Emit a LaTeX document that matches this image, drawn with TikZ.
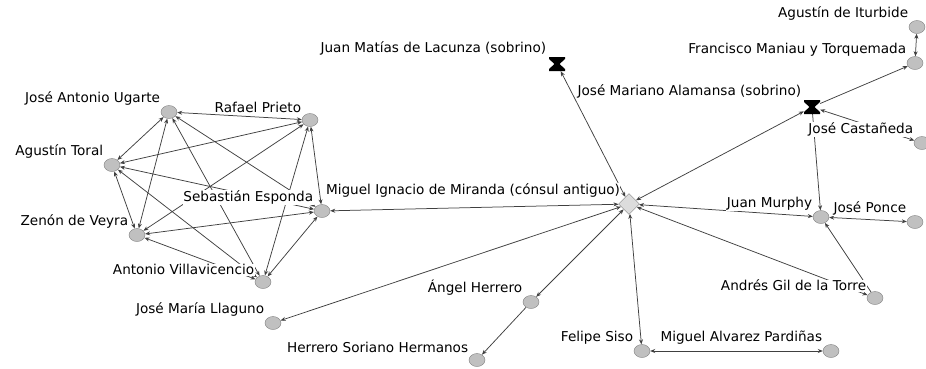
\documentclass[tikz,border=0pt]{standalone}
\usepackage{fontspec}
\setmainfont{DejaVu Sans}
\usetikzlibrary{shapes.geometric,arrows.meta,backgrounds}
\definecolor{tiegray}{HTML}{404040}
\definecolor{actorfill}{HTML}{C0C0C0}
\definecolor{actorline}{HTML}{808080}
\definecolor{brokerfill}{HTML}{DCDCDC}

\begin{document}
\begin{tikzpicture}[
		x=1pt, y=-1pt,
		every label/.style={fill=white, inner sep=0.5pt, xshift=-3pt, yshift=1pt, font=\fontsize{13.6}{16}\selectfont},
		actor/.style={draw=actorline, fill=actorfill, ellipse, minimum width=16pt, minimum height=13pt, inner sep=0pt},
		broker/.style={draw=actorline, fill=brokerfill, diamond, minimum width=21pt, minimum height=21pt, inner sep=0pt},
		nephew/.style={rectangle, minimum width=16pt, minimum height=14pt, inner sep=0pt,
			path picture={\fill (path picture bounding box.north west) -- (path picture bounding box.north east)
				-- ([yshift=-2pt]path picture bounding box.north east) -- ([xshift=2.5pt]path picture bounding box.center)
				-- ([yshift=2pt]path picture bounding box.south east) -- (path picture bounding box.south east)
				-- (path picture bounding box.south west) -- ([yshift=2pt]path picture bounding box.south west)
				-- ([xshift=-2.5pt]path picture bounding box.center) -- ([yshift=-2pt]path picture bounding box.north west) -- cycle;}},
		tie/.style={draw=tiegray, line width=0.75pt, {Stealth[length=5pt,width=4pt]}-{Stealth[length=5pt,width=4pt]}},
		oneway/.style={draw=tiegray, line width=0.75pt, -{Stealth[length=5pt,width=4pt]}}
		]
		\useasboundingbox (0,0) rectangle (926,368);

		% the consulado group
		\node[actor, label={above left:José Antonio Ugarte}] (Ugarte) at (169,112) {};
		\node[actor, label={above left:Rafael Prieto}] (Prieto) at (310,120) {};
		\node[actor, label={above left:Agustín Toral}] (Toral) at (112,165) {};
		\node[actor, label={above left:Zenón de Veyra}] (Veyra) at (137,235) {};
		\node[actor, label={above left:Antonio Villavicencio}] (Villa) at (263,282) {};
		\node[actor, label={above left:Sebastián Esponda}] (Esponda) at (322,211) {};

		\node[broker, label={above left:Miguel Ignacio de Miranda (cónsul antiguo)}] (Miranda) at (629,204) {};
		\node[nephew, label={above left:Juan Matías de Lacunza (sobrino)}] (Lacunza) at (557,64) {};
		\node[nephew, label={above left:José Mariano Alamansa (sobrino)}] (Alamansa) at (812,107) {};

		\node[actor, label={above left:Agustín de Iturbide}] (Iturbide) at (917,27) {};
		\node[actor, label={above left:Francisco Maniau y Torquemada}] (Maniau) at (915,63) {};
		\node[actor, label={above left:José Castañeda}] (Castaneda) at (922,143) {};
		\node[actor, label={above left:Juan Murphy}] (Murphy) at (821,217) {};
		\node[actor, label={above left:José Ponce}] (Ponce) at (915,222) {};
		\node[actor, label={above left:Andrés Gil de la Torre}] (Gil) at (875,298) {};
		\node[actor, label={above left:Felipe Siso}] (Siso) at (642,351) {};
		\node[actor, label={above left:Miguel Alvarez Pardiñas}] (Pardinas) at (831,351) {};
		\node[actor, label={above left:Ángel Herrero}] (Herrero) at (531,302) {};
		\node[actor, label={above left:Herrero Soriano Hermanos}] (Soriano) at (477,360) {};
		\node[actor, label={above left:José María Llaguno}] (Llaguno) at (273,323) {};

		\begin{scope}[on background layer]
			\foreach \a/\b in {Ugarte/Prieto, Ugarte/Toral, Ugarte/Veyra, Ugarte/Villa, Ugarte/Esponda,
				Prieto/Toral, Prieto/Veyra, Prieto/Villa, Prieto/Esponda,
				Toral/Veyra, Toral/Villa, Toral/Esponda,
				Veyra/Villa, Veyra/Esponda, Villa/Esponda,
				Esponda/Miranda, Lacunza/Miranda, Alamansa/Miranda, Murphy/Miranda, Gil/Miranda,
				Siso/Miranda, Herrero/Miranda, Llaguno/Miranda,
				Castaneda/Alamansa, Iturbide/Maniau, Murphy/Ponce, Siso/Pardinas}
				\draw[tie] (\a) -- (\b);
			\foreach \a/\b in {Alamansa/Maniau, Alamansa/Murphy, Gil/Murphy, Herrero/Soriano}
				\draw[oneway] (\a) -- (\b);
		\end{scope}
	\end{tikzpicture}
\end{document}
